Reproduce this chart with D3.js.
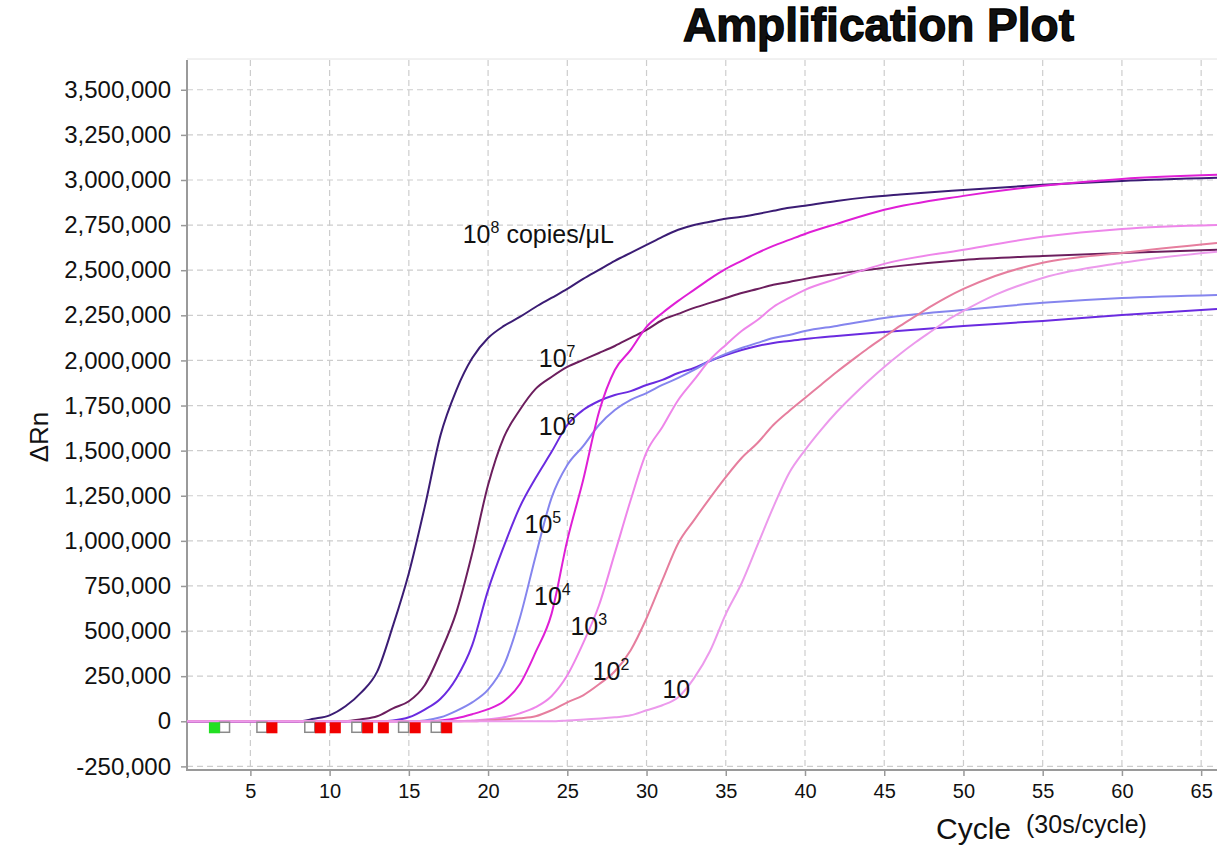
<!DOCTYPE html>
<html>
  <head>
    <meta charset="utf-8">
    <script src="https://cdn.jsdelivr.net/npm/d3@7"></script>
    <title>Amplification Plot</title>
    <style>
      body { margin: 0; background: #fff; }
      text { font-family: "Liberation Sans", Arial, sans-serif; fill: #111; }
      .grid line { stroke: #cdcdcd; stroke-dasharray: 6,4; stroke-width: 1.2; }
      .tick-label { font-size: 24px; }
      .x-label { font-size: 20px; }
      .curve { fill: none; stroke-width: 2; }
      .curve-label { font-size: 25px; }
    </style>
  </head>
  <body>
    <svg width="1217" height="848"></svg>
    <script>
      // readings: [cycle, dRn in thousands]
      const s1e8 = [[1,0],[8,0],[9,14],[10,33],[11,83],[12,160],[13,275],[14,530],[15,821],[16,1187],[17,1586],[18,1836],[19,2013],[20,2124],[21,2191],[22,2241],[23,2296],[24,2346],[25,2396],[26,2452],[27,2502],[28,2552],[29,2596],[30,2640],[31,2685],[32,2724],[33,2751],[34,2768],[35,2785],[36,2796],[37,2812],[38,2829],[39,2846],[40,2857],[42,2884],[44,2905],[46,2920],[50,2945],[55,2973],[60,2995],[66,3012]];
      const s1e7 = [[1,0],[11,0],[12,11],[13,28],[14,72],[15,111],[16,200],[17,383],[18,605],[19,932],[20,1309],[21,1575],[22,1725],[23,1842],[24,1908],[25,1964],[26,2003],[27,2041],[28,2080],[29,2125],[30,2169],[31,2224],[32,2258],[33,2291],[34,2319],[35,2346],[36,2374],[37,2396],[38,2419],[39,2435],[40,2452],[42,2480],[44,2502],[46,2524],[50,2557],[55,2579],[60,2596],[66,2613]];
      const s1e6 = [[1,0],[13,0],[14,5],[15,22],[16,65],[17,125],[18,239],[19,422],[20,727],[21,971],[22,1187],[23,1348],[24,1492],[25,1642],[26,1725],[27,1775],[28,1808],[29,1830],[30,1864],[31,1892],[32,1930],[33,1958],[34,1997],[35,2030],[36,2058],[37,2080],[38,2097],[39,2108],[40,2119],[42,2136],[45,2158],[50,2191],[55,2219],[60,2252],[66,2285]];
      const s1e5 = [[1,0],[15,0],[16,5],[17,22],[18,58],[19,105],[20,175],[21,311],[22,571],[23,915],[24,1237],[25,1420],[26,1525],[27,1642],[28,1725],[29,1781],[30,1819],[31,1864],[32,1903],[33,1947],[34,1997],[35,2036],[36,2069],[37,2097],[38,2124],[39,2141],[40,2163],[42,2191],[45,2235],[50,2280],[55,2319],[60,2346],[66,2363]];
      const s1e4 = [[1,0],[16,0],[17,5],[18,17],[19,39],[20,67],[21,111],[22,205],[23,383],[24,594],[25,1004],[26,1337],[27,1714],[28,1947],[29,2058],[30,2186],[31,2263],[32,2330],[33,2391],[34,2452],[35,2507],[36,2552],[37,2596],[38,2635],[39,2668],[40,2701],[42,2757],[45,2835],[50,2912],[55,2968],[60,3006],[66,3029]];
      const s1e3 = [[1,0],[18,0],[19,5],[20,11],[21,22],[22,44],[23,78],[24,139],[25,255],[26,433],[27,643],[28,932],[29,1226],[30,1492],[31,1631],[32,1781],[33,1892],[34,2003],[35,2086],[36,2163],[37,2224],[38,2296],[39,2346],[40,2391],[42,2452],[45,2535],[50,2613],[55,2685],[60,2729],[66,2751]];
      const s1e2 = [[1,0],[19,0],[20,5],[21,11],[22,17],[23,28],[24,61],[25,105],[26,144],[27,205],[28,277],[29,394],[30,571],[31,782],[32,987],[33,1115],[34,1237],[35,1353],[36,1459],[37,1542],[38,1642],[39,1720],[40,1792],[41,1864],[42,1936],[43,2003],[44,2069],[45,2130],[46,2191],[47,2247],[48,2302],[49,2352],[50,2396],[52,2468],[55,2541],[60,2596],[66,2651]];
      const s1e1 = [[1,0],[24,0],[25,5],[28,22],[29,33],[30,61],[31,89],[32,133],[33,239],[34,388],[35,594],[36,765],[37,976],[38,1187],[39,1376],[40,1503],[41,1614],[42,1714],[43,1803],[44,1886],[45,1964],[46,2036],[47,2102],[48,2163],[49,2224],[50,2274],[52,2363],[55,2457],[60,2541],[66,2602]];

      const seriesData = [s1e8, s1e7, s1e6, s1e5, s1e4, s1e3, s1e2, s1e1];
      const seriesColors = ['#3b1c74', '#6c1e5e', '#6a2be0', '#8585ee', '#df1fd6', '#ee86ea', '#e67e9e', '#ec9aec'];

      // curve labels: base, superscript, suffix, anchor [cycle, dRn in thousands]
      const labelBase = ['10', '10', '10', '10', '10', '10', '10', '10'];
      const labelSup = ['8', '7', '6', '5', '4', '3', '2', ''];
      const labelSuffix = [' copies/\u03bcL', '', '', '', '', '', '', ''];
      const labelAt = [[18.4,2651],[23.2,1964],[23.2,1586],[22.3,1043],[22.9,643],[25.2,477],[26.6,227],[31,128]];

      // well markers along the baseline (cycle)
      const markerOpen = [3.4, 5.76, 8.78, 11.75, 14.7, 16.76];
      const markerRed = [6.36, 9.41, 10.36, 12.4, 13.39, 15.4, 17.39];
      const markerGreen = [2.73];

      const xTicks = d3.range(5, 66, 5);
      const yTicks = d3.range(-250000, 3500001, 250000);

      const svg = d3.select('svg');
      const plotL = 187, plotR = 1217, plotT = 60, plotB = 770;

      const x = d3.scaleLinear().domain([1, 66]).range([plotL, plotR]);
      const y = d3.scaleLinear().domain([-270000, 3665000]).range([plotB, plotT]);

      // title
      svg.append('text')
        .attr('x', 683).attr('y', 41)
        .style('font-size', '46px').style('font-weight', 'bold')
        .attr('stroke', '#000').attr('stroke-width', 1.3)
        .text('Amplification Plot');

      // frame line on top
      svg.append('line')
        .attr('x1', plotL).attr('x2', plotR).attr('y1', plotT - 1).attr('y2', plotT - 1)
        .attr('stroke', '#e2e2e2').attr('stroke-width', 1);

      // grid
      const grid = svg.append('g').attr('class', 'grid');
      grid.selectAll('.gx').data(xTicks).enter().append('line')
        .attr('x1', d => x(d)).attr('x2', d => x(d))
        .attr('y1', plotT).attr('y2', plotB);
      grid.selectAll('.gy').data(yTicks).enter().append('line')
        .attr('x1', plotL).attr('x2', plotR)
        .attr('y1', d => y(d)).attr('y2', d => y(d));

      // axes
      const fmt = d3.format(',');
      const yAxis = d3.axisLeft(y).tickValues(yTicks)
        .tickFormat(d => fmt(d).replace('\u2212', '-'))
        .tickSize(6).tickPadding(10);
      const xAxis = d3.axisBottom(x).tickValues(xTicks).tickSize(6).tickPadding(8);

      const yG = svg.append('g').attr('transform', `translate(${plotL},0)`).call(yAxis);
      const xG = svg.append('g').attr('transform', `translate(0,${plotB})`).call(xAxis);
      [yG, xG].forEach(g => {
        g.select('.domain').remove();
        g.selectAll('.tick line').attr('stroke', '#999').attr('stroke-width', 1.5);
        g.selectAll('.tick text').attr('fill', '#111').style('font-family', '"Liberation Sans", Arial, sans-serif');
      });
      yG.selectAll('.tick text').attr('class', 'tick-label');
      xG.selectAll('.tick text').attr('class', 'x-label');

      svg.append('line').attr('x1', plotL).attr('x2', plotL).attr('y1', plotT).attr('y2', plotB + 1)
        .attr('stroke', '#9a9a9a').attr('stroke-width', 2);
      svg.append('line').attr('x1', plotL).attr('x2', plotR).attr('y1', plotB).attr('y2', plotB)
        .attr('stroke', '#9a9a9a').attr('stroke-width', 2);

      // axis titles
      svg.append('text')
        .attr('transform', 'translate(48,437) rotate(-90)')
        .attr('text-anchor', 'middle')
        .style('font-size', '26px')
        .text('\u0394Rn');
      svg.append('text')
        .attr('x', 936).attr('y', 839)
        .style('font-size', '30px')
        .text('Cycle');
      svg.append('text')
        .attr('x', 1026).attr('y', 833)
        .style('font-size', '25px')
        .text('(30s/cycle)');

      // curves
      const line = d3.line()
        .x(d => x(d[0]))
        .y(d => y(d[1] * 1000))
        .curve(d3.curveMonotoneX);

      svg.append('defs').append('clipPath').attr('id', 'plot-clip')
        .append('rect').attr('x', plotL).attr('y', plotT).attr('width', plotR - plotL).attr('height', plotB - plotT);

      svg.append('g').attr('clip-path', 'url(#plot-clip)')
        .selectAll('path').data(seriesData).enter().append('path')
        .attr('class', 'curve')
        .attr('stroke', (d, i) => seriesColors[i])
        .attr('d', line);

      // baseline markers
      const ms = 11;
      const mk = svg.append('g');
      mk.selectAll('.mo').data(markerOpen).enter().append('rect')
        .attr('x', d => x(d) - ms / 2).attr('y', y(0) + 1)
        .attr('width', ms - 1).attr('height', ms - 1)
        .attr('fill', '#fff').attr('stroke', '#8a8a8a').attr('stroke-width', 1.5);
      mk.selectAll('.mr').data(markerRed).enter().append('rect')
        .attr('x', d => x(d) - ms / 2).attr('y', y(0) + 1)
        .attr('width', ms).attr('height', ms)
        .attr('fill', '#f20000');
      mk.selectAll('.mg').data(markerGreen).enter().append('rect')
        .attr('x', d => x(d) - ms / 2).attr('y', y(0) + 1)
        .attr('width', ms).attr('height', ms)
        .attr('fill', '#22e022');

      // curve labels
      const lab = svg.selectAll('.curve-label').data(labelAt).enter().append('text')
        .attr('class', 'curve-label')
        .attr('x', d => x(d[0]))
        .attr('y', d => y(d[1] * 1000));
      lab.append('tspan').text((d, i) => labelBase[i]);
      lab.append('tspan')
        .attr('dy', -10)
        .style('font-size', '16px')
        .text((d, i) => labelSup[i]);
      lab.append('tspan')
        .attr('dy', 10)
        .text((d, i) => labelSuffix[i]);
    </script>
  </body>
</html>
